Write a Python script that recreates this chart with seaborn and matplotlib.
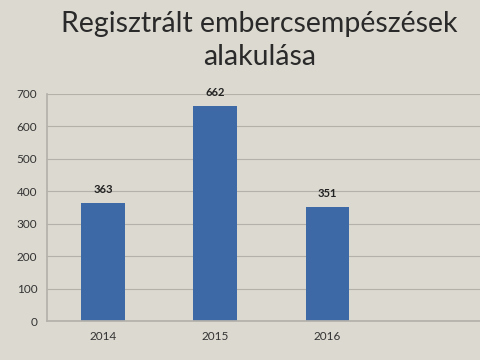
import matplotlib
matplotlib.use("Agg")
import matplotlib.pyplot as plt
import seaborn as sns
import pandas as pd

years = ["2014", "2015", "2016"]
counts = [363, 662, 351]
title = "Regisztrált embercsempészések\nalakulása"

sns.set_theme(style="white")
plt.rcParams['font.family'] = ['Lato', 'DejaVu Sans']

bg = "#dcd9d0"
fig = plt.figure(figsize=(4.8, 3.6), dpi=100, facecolor=bg)
ax = fig.add_axes([47 / 480, 39 / 360, 433 / 480, 227 / 360])
ax.set_facecolor(bg)

df = pd.DataFrame({"year": years, "count": counts})
sns.barplot(data=df, x="year", y="count", color="#3d6aa6", saturation=1,
            width=0.39, linewidth=0, ax=ax)

for i, v in enumerate(counts):
    ax.text(i, v + 25, str(v), ha="center", va="bottom", fontsize=8,
            fontweight="bold", color="#222222")

ax.set_ylim(0, 700)
ax.set_xlim(-0.5, 3.36)
ax.set_yticks(range(0, 701, 100))
ax.yaxis.grid(True, color="#b4b1aa", linewidth=0.8)
ax.set_axisbelow(True)
for s in ["top", "right"]:
    ax.spines[s].set_visible(False)
ax.spines["left"].set_color("#b4b1aa")
ax.spines["bottom"].set_color("#b4b1aa")
ax.tick_params(axis="both", labelsize=8.5, colors="#333333", length=0, pad=7)
ax.set_xlabel("")
ax.set_ylabel("")

fig.text(0.54, 0.888, title, ha="center", va="center", fontsize=20.5,
         color="#2a2a2a", linespacing=1.35)

fig.savefig("out.png", dpi=100, facecolor=bg)
